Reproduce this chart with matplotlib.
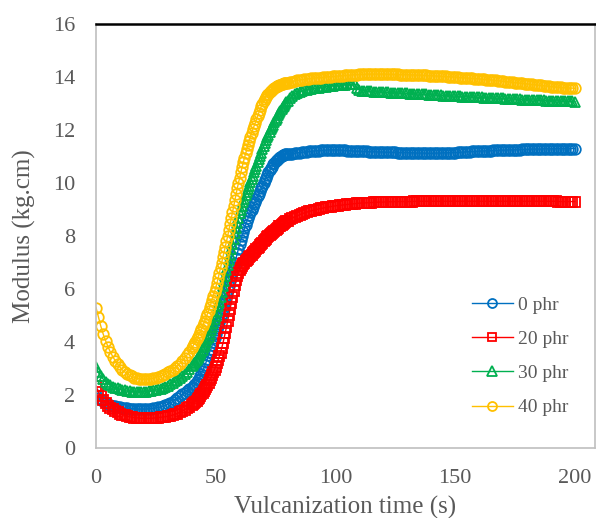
import matplotlib.pyplot as plt

plt.rcParams['font.family'] = ['Liberation Serif', 'DejaVu Serif']

# sampling times (s): 1 s steps, 0.5 s steps through the cure rise
t_a = list(range(0, 40))
t_b = [40 + 0.5 * i for i in range(81)]
t_c = list(range(81, 201))
time = t_a + t_b + t_c

# 0 phr
phr0_a = [2.0, 1.9, 1.82, 1.76, 1.71, 1.67, 1.63, 1.6, 1.58, 1.56,
          1.54, 1.52, 1.51, 1.5, 1.49, 1.48, 1.48, 1.47, 1.47, 1.47,
          1.47, 1.47, 1.48, 1.49, 1.5, 1.51, 1.53, 1.55, 1.58, 1.61,
          1.65, 1.7, 1.75, 1.81, 1.88, 1.95, 2.02, 2.08, 2.15, 2.22]
phr0_b = [2.28, 2.32, 2.36, 2.42, 2.48, 2.55, 2.62, 2.71, 2.8, 2.9,
          3.0, 3.12, 3.25, 3.37, 3.5, 3.62, 3.75, 3.87, 4.0, 4.15,
          4.3, 4.45, 4.6, 4.75, 4.9, 5.07, 5.25, 5.42, 5.6, 5.77,
          5.95, 6.12, 6.3, 6.47, 6.65, 6.82, 7.0, 7.17, 7.35, 7.52,
          7.7, 7.85, 8.0, 8.15, 8.3, 8.42, 8.55, 8.67, 8.8, 8.9,
          9.0, 9.1, 9.2, 9.3, 9.4, 9.5, 9.6, 9.7, 9.8, 9.9,
          10.0, 10.1, 10.2, 10.3, 10.4, 10.48, 10.55, 10.62, 10.7, 10.76,
          10.82, 10.87, 10.92, 10.96, 11.0, 11.02, 11.05, 11.07, 11.08, 11.09,
          11.1]
phr0_c = [11.1, 11.1, 11.12, 11.14, 11.15, 11.16, 11.17, 11.18, 11.19, 11.2,
          11.21, 11.22, 11.22, 11.23, 11.24, 11.24, 11.25, 11.25, 11.25, 11.25,
          11.25, 11.24, 11.24, 11.23, 11.22, 11.22, 11.21, 11.2, 11.2, 11.2,
          11.19, 11.19, 11.19, 11.18, 11.18, 11.18, 11.18, 11.17, 11.17, 11.17,
          11.16, 11.16, 11.16, 11.16, 11.16, 11.15, 11.15, 11.15, 11.15, 11.15,
          11.14, 11.14, 11.14, 11.13, 11.13, 11.13, 11.13, 11.12, 11.12, 11.12,
          11.12, 11.13, 11.13, 11.13, 11.14, 11.14, 11.14, 11.15, 11.15, 11.15,
          11.16, 11.16, 11.17, 11.17, 11.18, 11.18, 11.19, 11.19, 11.2, 11.2,
          11.21, 11.21, 11.22, 11.22, 11.22, 11.23, 11.23, 11.23, 11.24, 11.24,
          11.24, 11.25, 11.25, 11.25, 11.26, 11.26, 11.26, 11.27, 11.27, 11.27,
          11.27, 11.28, 11.28, 11.28, 11.28, 11.28, 11.29, 11.29, 11.29, 11.29,
          11.29, 11.29, 11.3, 11.3, 11.3, 11.3, 11.3, 11.3, 11.3, 11.3]

# 20 phr
phr20_a = [2.35, 2.1, 1.95, 1.82, 1.7, 1.6, 1.52, 1.46, 1.4, 1.35,
           1.3, 1.26, 1.23, 1.2, 1.18, 1.16, 1.15, 1.14, 1.13, 1.12,
           1.12, 1.12, 1.12, 1.12, 1.13, 1.14, 1.15, 1.16, 1.17, 1.18,
           1.2, 1.22, 1.24, 1.27, 1.3, 1.35, 1.4, 1.45, 1.5, 1.56]
phr20_b = [1.62, 1.66, 1.7, 1.74, 1.79, 1.84, 1.9, 1.96, 2.02, 2.08,
           2.15, 2.22, 2.3, 2.38, 2.47, 2.56, 2.65, 2.75, 2.85, 2.96,
           3.07, 3.19, 3.32, 3.46, 3.6, 3.77, 3.95, 4.15, 4.35, 4.57,
           4.8, 5.02, 5.25, 5.47, 5.7, 5.92, 6.15, 6.33, 6.5, 6.62,
           6.72, 6.8, 6.87, 6.94, 7.0, 7.05, 7.1, 7.15, 7.2, 7.25,
           7.3, 7.35, 7.4, 7.45, 7.5, 7.55, 7.6, 7.65, 7.7, 7.75,
           7.8, 7.85, 7.9, 7.95, 7.99, 8.04, 8.08, 8.12, 8.16, 8.2,
           8.24, 8.28, 8.32, 8.36, 8.39, 8.43, 8.46, 8.49, 8.52, 8.55,
           8.58]
phr20_c = [8.63, 8.68, 8.72, 8.76, 8.8, 8.84, 8.87, 8.9, 8.93, 8.95,
           8.98, 9.0, 9.02, 9.04, 9.06, 9.08, 9.09, 9.11, 9.12, 9.14,
           9.15, 9.16, 9.17, 9.18, 9.19, 9.2, 9.21, 9.22, 9.23, 9.24,
           9.24, 9.25, 9.25, 9.26, 9.26, 9.27, 9.27, 9.28, 9.28, 9.28,
           9.29, 9.29, 9.29, 9.29, 9.3, 9.3, 9.3, 9.3, 9.3, 9.3,
           9.3, 9.3, 9.31, 9.31, 9.31, 9.31, 9.31, 9.31, 9.31, 9.31,
           9.31, 9.31, 9.31, 9.31, 9.31, 9.31, 9.31, 9.31, 9.31, 9.31,
           9.31, 9.31, 9.31, 9.31, 9.31, 9.31, 9.31, 9.31, 9.31, 9.31,
           9.31, 9.31, 9.31, 9.31, 9.31, 9.31, 9.31, 9.31, 9.31, 9.31,
           9.31, 9.31, 9.31, 9.31, 9.31, 9.31, 9.31, 9.31, 9.31, 9.31,
           9.31, 9.31, 9.31, 9.31, 9.31, 9.31, 9.31, 9.31, 9.31, 9.31,
           9.31, 9.31, 9.3, 9.3, 9.3, 9.3, 9.3, 9.3, 9.3, 9.3]

# 30 phr
phr30_a = [3.05, 2.85, 2.7, 2.6, 2.5, 2.43, 2.37, 2.32, 2.28, 2.25,
           2.22, 2.19, 2.17, 2.15, 2.14, 2.13, 2.12, 2.12, 2.12, 2.12,
           2.12, 2.13, 2.14, 2.15, 2.17, 2.19, 2.21, 2.24, 2.27, 2.31,
           2.35, 2.4, 2.45, 2.51, 2.57, 2.63, 2.7, 2.78, 2.87, 2.97]
phr30_b = [3.08, 3.14, 3.2, 3.26, 3.33, 3.4, 3.47, 3.54, 3.62, 3.71,
           3.8, 3.9, 4.0, 4.1, 4.2, 4.32, 4.45, 4.58, 4.72, 4.86,
           5.0, 5.17, 5.35, 5.52, 5.7, 5.9, 6.1, 6.3, 6.5, 6.7,
           6.9, 7.1, 7.3, 7.5, 7.7, 7.9, 8.1, 8.3, 8.5, 8.68,
           8.85, 9.0, 9.15, 9.28, 9.4, 9.53, 9.65, 9.78, 9.9, 10.03,
           10.15, 10.28, 10.4, 10.53, 10.65, 10.78, 10.9, 11.03, 11.15, 11.28,
           11.4, 11.51, 11.62, 11.72, 11.82, 11.92, 12.02, 12.11, 12.2, 12.29,
           12.38, 12.47, 12.55, 12.63, 12.7, 12.78, 12.85, 12.92, 12.98, 13.04,
           13.1]
phr30_c = [13.2, 13.28, 13.35, 13.4, 13.44, 13.47, 13.5, 13.52, 13.54, 13.55,
           13.57, 13.58, 13.6, 13.61, 13.63, 13.64, 13.65, 13.66, 13.67, 13.68,
           13.69, 13.7, 13.7, 13.71, 13.72, 13.72, 13.73, 13.73, 13.6, 13.5,
           13.49, 13.48, 13.47, 13.46, 13.46, 13.45, 13.44, 13.44, 13.43, 13.43,
           13.42, 13.42, 13.41, 13.41, 13.4, 13.4, 13.39, 13.39, 13.38, 13.38,
           13.37, 13.37, 13.36, 13.36, 13.35, 13.35, 13.34, 13.34, 13.33, 13.33,
           13.32, 13.32, 13.31, 13.31, 13.3, 13.3, 13.29, 13.29, 13.28, 13.28,
           13.27, 13.27, 13.26, 13.26, 13.25, 13.25, 13.24, 13.24, 13.24, 13.23,
           13.23, 13.22, 13.22, 13.21, 13.21, 13.2, 13.2, 13.2, 13.19, 13.19,
           13.18, 13.18, 13.17, 13.17, 13.17, 13.16, 13.16, 13.15, 13.15, 13.15,
           13.14, 13.14, 13.13, 13.13, 13.13, 13.12, 13.12, 13.11, 13.11, 13.11,
           13.1, 13.1, 13.1, 13.09, 13.09, 13.09, 13.08, 13.08, 13.08, 13.07]

# 40 phr
phr40_a = [5.3, 4.95, 4.6, 4.3, 4.05, 3.82, 3.62, 3.45, 3.3, 3.17,
           3.05, 2.95, 2.87, 2.8, 2.74, 2.7, 2.66, 2.63, 2.61, 2.6,
           2.6, 2.6, 2.61, 2.62, 2.64, 2.66, 2.69, 2.72, 2.76, 2.8,
           2.85, 2.9, 2.96, 3.03, 3.1, 3.18, 3.28, 3.39, 3.51, 3.64]
phr40_b = [3.78, 3.85, 3.93, 4.01, 4.1, 4.19, 4.28, 4.38, 4.48, 4.59,
           4.7, 4.81, 4.93, 5.05, 5.18, 5.31, 5.45, 5.6, 5.75, 5.9,
           6.05, 6.22, 6.4, 6.6, 6.8, 7.0, 7.2, 7.4, 7.6, 7.8,
           8.0, 8.22, 8.45, 8.67, 8.9, 9.12, 9.35, 9.57, 9.8, 10.0,
           10.2, 10.4, 10.6, 10.78, 10.95, 11.12, 11.3, 11.45, 11.6, 11.75,
           11.9, 12.02, 12.15, 12.27, 12.4, 12.52, 12.65, 12.77, 12.9, 13.0,
           13.1, 13.18, 13.25, 13.31, 13.37, 13.42, 13.47, 13.51, 13.55, 13.59,
           13.62, 13.65, 13.67, 13.69, 13.71, 13.73, 13.74, 13.76, 13.77, 13.78,
           13.79]
phr40_c = [13.81, 13.83, 13.85, 13.87, 13.89, 13.9, 13.91, 13.92, 13.94, 13.95,
           13.96, 13.97, 13.97, 13.98, 13.99, 14.0, 14.01, 14.01, 14.02, 14.03,
           14.04, 14.04, 14.05, 14.06, 14.07, 14.07, 14.08, 14.09, 14.09, 14.1,
           14.1, 14.1, 14.11, 14.11, 14.11, 14.11, 14.11, 14.11, 14.11, 14.11,
           14.11, 14.1, 14.1, 14.1, 14.1, 14.1, 14.09, 14.09, 14.09, 14.09,
           14.08, 14.08, 14.08, 14.07, 14.07, 14.07, 14.06, 14.06, 14.05, 14.05,
           14.04, 14.04, 14.03, 14.03, 14.02, 14.02, 14.01, 14.01, 14.0, 14.0,
           13.99, 13.98, 13.98, 13.97, 13.96, 13.96, 13.95, 13.94, 13.94, 13.93,
           13.92, 13.91, 13.9, 13.9, 13.89, 13.88, 13.87, 13.86, 13.85, 13.84,
           13.83, 13.82, 13.81, 13.8, 13.79, 13.78, 13.77, 13.76, 13.75, 13.74,
           13.73, 13.72, 13.71, 13.7, 13.69, 13.68, 13.67, 13.66, 13.65, 13.64,
           13.63, 13.62, 13.62, 13.61, 13.6, 13.6, 13.59, 13.58, 13.58, 13.57]

series = [phr0_a + phr0_b + phr0_c,
          phr20_a + phr20_b + phr20_c,
          phr30_a + phr30_b + phr30_c,
          phr40_a + phr40_b + phr40_c]
labels = ['0 phr', '20 phr', '30 phr', '40 phr']
colors = ['#0070C0', '#FF0000', '#00B050', '#FFC000']
markers = ['o', 's', '^', 'o']
sizes = [7.6, 7.0, 7.8, 7.6]

fig = plt.figure(figsize=(5.96, 5.18), dpi=100)
ax = fig.add_axes([96/596, 1 - 448/518, 499/596, 424/518])

for y, lab, c, m, ms in zip(series, labels, colors, markers, sizes):
    ax.plot(time, y, color=c, lw=1.0, marker=m, markersize=ms, markerfacecolor='none',
            markeredgecolor=c, markeredgewidth=1.3, label=lab)

ax.set_xlim(0, 208.4)
ax.set_ylim(0, 16)
ax.set_xticks([0, 50, 100, 150, 200])
ax.set_yticks(range(0, 17, 2))
ax.tick_params(length=0, labelsize=16, labelcolor='#595959', pad=15)
ax.set_xlabel('Vulcanization time (s)', fontsize=18, color='#595959', labelpad=6)
ax.set_ylabel('Modulus (kg.cm)', fontsize=18, color='#595959', labelpad=12)

for s in ['left', 'bottom', 'right']:
    ax.spines[s].set_color('#BFBFBF')
    ax.spines[s].set_linewidth(1.2)
ax.spines['top'].set_color('black')
ax.spines['top'].set_linewidth(1.8)

leg = ax.legend(loc='center left', bbox_to_anchor=(0.7535, 0.216), frameon=False,
                fontsize=14, labelspacing=0.85, handlelength=2.1, handletextpad=0.26,
                borderpad=0, borderaxespad=0, markerscale=0.85)
for txt in leg.get_texts():
    txt.set_color('#595959')

fig.savefig('out.png', dpi=100)
